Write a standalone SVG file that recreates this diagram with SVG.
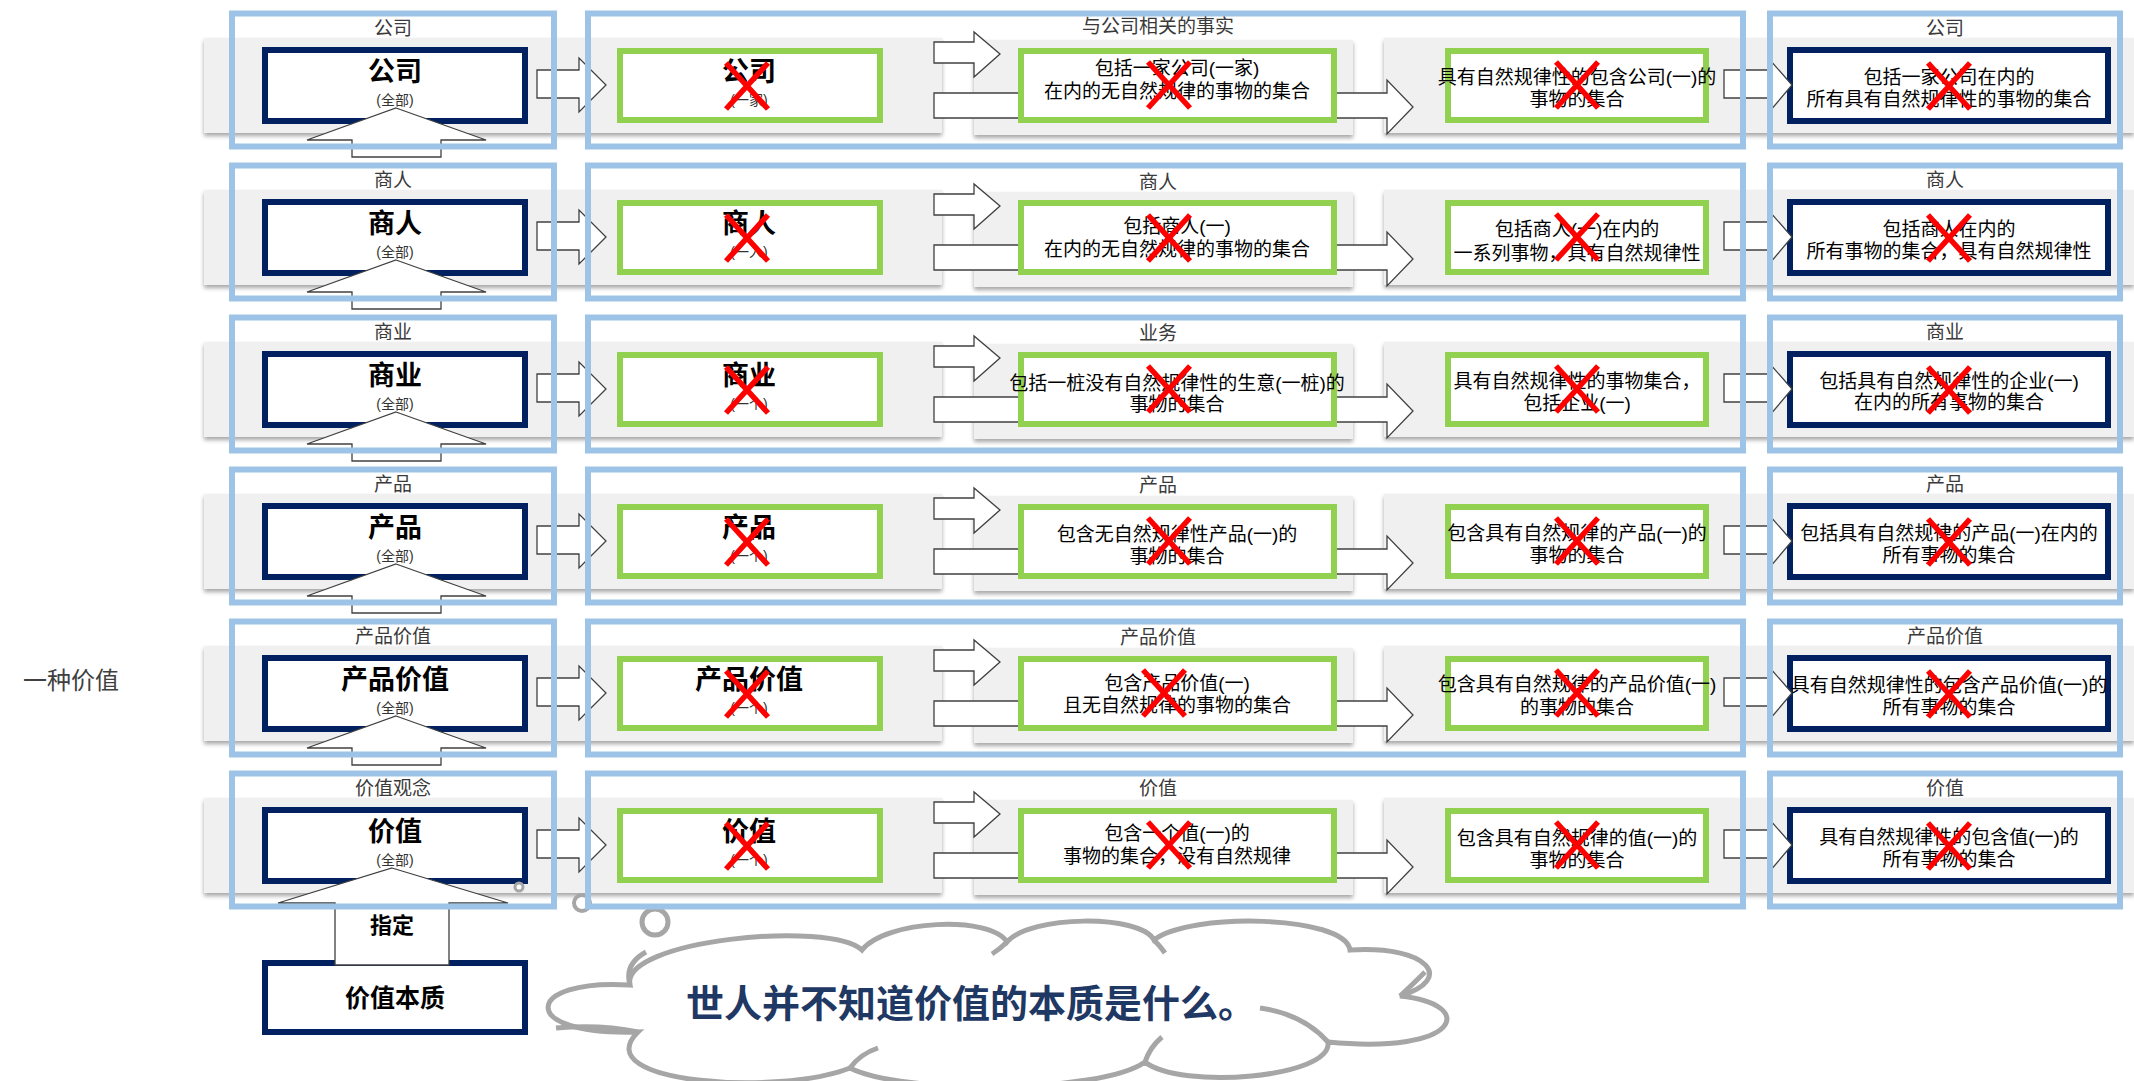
<svg xmlns="http://www.w3.org/2000/svg" width="2134" height="1081" viewBox="0 0 2134 1081">
<defs>
<style>
text{font-family:"Liberation Sans","Noto Sans CJK SC",sans-serif;text-anchor:middle;dominant-baseline:central}
.panel{fill:#f0f0f0;filter:url(#sh)}
.frame{fill:none;stroke:#9dc3e6;stroke-width:6}
.navy{fill:#fff;stroke:#002060;stroke-width:6}
.green{fill:#fff;stroke:#92d050;stroke-width:6}
.arr{fill:#fff;stroke:#404040;stroke-width:1.3}
.x{stroke:#ff0000;stroke-width:5.5;fill:none}
.lbl{font-size:19px;fill:#3a3a3a}
.big{font-size:27px;font-weight:bold;fill:#000}
.sub{font-size:14px;fill:#333}
.t{font-size:19px;fill:#000}
.cloud{fill:#fff;stroke:#a6a6a6;stroke-width:5}
.cl{fill:none;stroke:#a6a6a6;stroke-width:5}
.ring{fill:#fff;stroke:#a6a6a6}
</style>
<filter id="sh" x="-2%" y="-20%" width="104%" height="150%">
<feDropShadow dx="0" dy="3" stdDeviation="2" flood-color="#000" flood-opacity="0.35"/>
</filter>
<path id="aA" d="M537 70H579V58L606 85L579 112V98H537Z"/>
<path id="aB" d="M934 42H974V32L1000 54L974 77V63H934Z"/>
<path id="aC1" d="M1018 93H934V118H1018"/>
<path id="aC2" d="M1337 93H1387V80L1413 107L1387 134V118H1337"/>
<path id="aD" d="M1724 70H1770V60L1792 85L1770 111V98H1724Z"/>
<path id="aUp" d="M396 108L486 140H441V157H352V140H307Z"/>
<path id="xm" d="M-21 -23L21 23M21 -23L-21 23"/>
<g id="pnl">
<rect class="panel" x="204" y="38" width="738" height="95"/>
<rect class="panel" x="974" y="40" width="379" height="95"/>
<rect class="panel" x="1384" y="38" width="750" height="95"/>
</g>
</defs>

<g id="panels">
<use href="#pnl"/>
<use href="#pnl" y="152"/>
<use href="#pnl" y="304"/>
<use href="#pnl" y="456"/>
<use href="#pnl" y="608"/>
<use href="#pnl" y="760"/>
</g>

<text id="side-label" x="71" y="680" style="font-size:24px;fill:#404040">一种价值</text>

<g id="nodes">
<g id="row1">
 <g id="r1-whole"><rect class="navy" x="265" y="50" width="260" height="71"/><text class="big" x="395" y="72">公司</text><text class="sub" x="395" y="100">(全部)</text></g>
 <g id="r1-one"><rect class="green" x="620" y="51" width="260" height="69"/><text class="big" x="749" y="72">公司</text><text class="sub" x="749" y="100">(一家)</text></g>
 <g id="r1-fact1"><rect class="green" x="1021" y="51" width="313" height="69"/><text class="t" x="1177" y="68">包括一家公司(一家)</text><text class="t" x="1177" y="91">在内的无自然规律的事物的集合</text></g>
 <g id="r1-fact2"><rect class="green" x="1448" y="51" width="258" height="69"/><text class="t" x="1577" y="77">具有自然规律性的包含公司(一)的</text><text class="t" x="1577" y="99">事物的集合</text></g>
 <g id="r1-result"><rect class="navy" x="1790" y="50" width="318" height="71"/><text class="t" x="1949" y="77">包括一家公司在内的</text><text class="t" x="1949" y="99">所有具有自然规律性的事物的集合</text></g>
</g>
<g id="row2" transform="translate(0,152)">
 <g id="r2-whole"><rect class="navy" x="265" y="50" width="260" height="71"/><text class="big" x="395" y="72">商人</text><text class="sub" x="395" y="100">(全部)</text></g>
 <g id="r2-one"><rect class="green" x="620" y="51" width="260" height="69"/><text class="big" x="749" y="72">商人</text><text class="sub" x="749" y="100">(一人)</text></g>
 <g id="r2-fact1"><rect class="green" x="1021" y="51" width="313" height="69"/><text class="t" x="1177" y="74">包括商人(一)</text><text class="t" x="1177" y="97">在内的无自然规律的事物的集合</text></g>
 <g id="r2-fact2"><rect class="green" x="1448" y="51" width="258" height="69"/><text class="t" x="1577" y="77">包括商人(一)在内的</text><text class="t" x="1577" y="101">一系列事物，具有自然规律性</text></g>
 <g id="r2-result"><rect class="navy" x="1790" y="50" width="318" height="71"/><text class="t" x="1949" y="77">包括商人在内的</text><text class="t" x="1949" y="99">所有事物的集合，具有自然规律性</text></g>
</g>
<g id="row3" transform="translate(0,304)">
 <g id="r3-whole"><rect class="navy" x="265" y="50" width="260" height="71"/><text class="big" x="395" y="72">商业</text><text class="sub" x="395" y="100">(全部)</text></g>
 <g id="r3-one"><rect class="green" x="620" y="51" width="260" height="69"/><text class="big" x="749" y="72">商业</text><text class="sub" x="749" y="100">(一个)</text></g>
 <g id="r3-fact1"><rect class="green" x="1021" y="51" width="313" height="69"/><text class="t" x="1177" y="79">包括一桩没有自然规律性的生意(一桩)的</text><text class="t" x="1177" y="100">事物的集合</text></g>
 <g id="r3-fact2"><rect class="green" x="1448" y="51" width="258" height="69"/><text class="t" x="1577" y="77">具有自然规律性的事物集合，</text><text class="t" x="1577" y="99">包括企业(一)</text></g>
 <g id="r3-result"><rect class="navy" x="1790" y="50" width="318" height="71"/><text class="t" x="1949" y="77">包括具有自然规律性的企业(一)</text><text class="t" x="1949" y="98">在内的所有事物的集合</text></g>
</g>
<g id="row4" transform="translate(0,456)">
 <g id="r4-whole"><rect class="navy" x="265" y="50" width="260" height="71"/><text class="big" x="395" y="72">产品</text><text class="sub" x="395" y="100">(全部)</text></g>
 <g id="r4-one"><rect class="green" x="620" y="51" width="260" height="69"/><text class="big" x="749" y="72">产品</text><text class="sub" x="749" y="100">(一个)</text></g>
 <g id="r4-fact1"><rect class="green" x="1021" y="51" width="313" height="69"/><text class="t" x="1177" y="78">包含无自然规律性产品(一)的</text><text class="t" x="1177" y="100">事物的集合</text></g>
 <g id="r4-fact2"><rect class="green" x="1448" y="51" width="258" height="69"/><text class="t" x="1577" y="77">包含具有自然规律的产品(一)的</text><text class="t" x="1577" y="99">事物的集合</text></g>
 <g id="r4-result"><rect class="navy" x="1790" y="50" width="318" height="71"/><text class="t" x="1949" y="77">包括具有自然规律的产品(一)在内的</text><text class="t" x="1949" y="99">所有事物的集合</text></g>
</g>
<g id="row5" transform="translate(0,608)">
 <g id="r5-whole"><rect class="navy" x="265" y="50" width="260" height="71"/><text class="big" x="395" y="72">产品价值</text><text class="sub" x="395" y="100">(全部)</text></g>
 <g id="r5-one"><rect class="green" x="620" y="51" width="260" height="69"/><text class="big" x="749" y="72">产品价值</text><text class="sub" x="749" y="100">(一个)</text></g>
 <g id="r5-fact1"><rect class="green" x="1021" y="51" width="313" height="69"/><text class="t" x="1177" y="75">包含产品价值(一)</text><text class="t" x="1177" y="97">且无自然规律的事物的集合</text></g>
 <g id="r5-fact2"><rect class="green" x="1448" y="51" width="258" height="69"/><text class="t" x="1577" y="76">包含具有自然规律的产品价值(一)</text><text class="t" x="1577" y="99">的事物的集合</text></g>
 <g id="r5-result"><rect class="navy" x="1790" y="50" width="318" height="71"/><text class="t" x="1949" y="77">具有自然规律性的包含产品价值(一)的</text><text class="t" x="1949" y="99">所有事物的集合</text></g>
</g>
<g id="row6" transform="translate(0,760)">
 <g id="r6-whole"><rect class="navy" x="265" y="50" width="260" height="71"/><text class="big" x="395" y="72">价值</text><text class="sub" x="395" y="100">(全部)</text></g>
 <g id="r6-one"><rect class="green" x="620" y="51" width="260" height="69"/><text class="big" x="749" y="72">价值</text><text class="sub" x="749" y="100">(一个)</text></g>
 <g id="r6-fact1"><rect class="green" x="1021" y="51" width="313" height="69"/><text class="t" x="1177" y="73">包含一个值(一)的</text><text class="t" x="1177" y="96">事物的集合，没有自然规律</text></g>
 <g id="r6-fact2"><rect class="green" x="1448" y="51" width="258" height="69"/><text class="t" x="1577" y="78">包含具有自然规律的值(一)的</text><text class="t" x="1577" y="100">事物的集合</text></g>
 <g id="r6-result"><rect class="navy" x="1790" y="50" width="318" height="71"/><text class="t" x="1949" y="77">具有自然规律性的包含值(一)的</text><text class="t" x="1949" y="99">所有事物的集合</text></g>
</g>
<g id="essence"><rect class="navy" x="265" y="963" width="260" height="69"/><text x="395" y="998" style="font-size:25px;font-weight:bold;fill:#000">价值本质</text></g>
<g id="cloud">
 <path class="cloud" d="M630 985C620 940 830 920 862 950C885 920 990 915 1007 942C1030 915 1140 914 1154 940C1190 912 1345 915 1350 950C1430 945 1455 980 1400 996C1478 1004 1462 1055 1328 1042C1333 1078 1180 1090 1145 1062C1100 1094 900 1094 850 1068C780 1096 585 1084 638 1032C515 1036 524 978 630 985Z"/>
 <path class="cl" d="M630 985Q624 964 646 952M638 1032Q600 1024 556 1028M1007 942Q1000 949 992 954M1154 940Q1160 946 1165 953M1400 996Q1410 987 1425 972M1328 1042Q1303 1014 1260 1008M1145 1062Q1150 1047 1162 1037M850 1068Q860 1054 878 1048"/>
 <text x="686" y="1004" style="font-size:38px;font-weight:bold;fill:#1f3864;text-anchor:start">世人并不知道价值的本质是什么。</text>
</g>
<g id="bubbles">
 <circle class="ring" cx="519" cy="887" r="4" stroke-width="3"/>
 <circle class="ring" cx="582" cy="903" r="8" stroke-width="4"/>
 <circle class="ring" cx="655" cy="922" r="13" stroke-width="5"/>
</g>
</g>

<g id="connectors" class="arr">
 <use href="#aA"/><use href="#aB"/><use href="#aC1"/><use href="#aC2"/><use href="#aD"/><use href="#aUp"/>
 <use href="#aA" y="152"/><use href="#aB" y="152"/><use href="#aC1" y="152"/><use href="#aC2" y="152"/><use href="#aD" y="152"/><use href="#aUp" y="152"/>
 <use href="#aA" y="304"/><use href="#aB" y="304"/><use href="#aC1" y="304"/><use href="#aC2" y="304"/><use href="#aD" y="304"/><use href="#aUp" y="304"/>
 <use href="#aA" y="456"/><use href="#aB" y="456"/><use href="#aC1" y="456"/><use href="#aC2" y="456"/><use href="#aD" y="456"/><use href="#aUp" y="456"/>
 <use href="#aA" y="608"/><use href="#aB" y="608"/><use href="#aC1" y="608"/><use href="#aC2" y="608"/><use href="#aD" y="608"/><use href="#aUp" y="608"/>
 <use href="#aA" y="760"/><use href="#aB" y="760"/><use href="#aC1" y="760"/><use href="#aC2" y="760"/><use href="#aD" y="760"/>
 <g id="assign"><path d="M392 868L508 903H449V965H335V903H278Z"/><text x="392" y="925" style="font-size:22px;font-weight:bold;fill:#000;stroke:none">指定</text></g>
</g>

<g id="marks" class="x">
 <use href="#xm" x="747" y="86"/><use href="#xm" x="1169" y="85"/><use href="#xm" x="1577" y="85"/><use href="#xm" x="1949" y="86"/>
 <use href="#xm" x="747" y="238"/><use href="#xm" x="1169" y="238"/><use href="#xm" x="1577" y="237"/><use href="#xm" x="1949" y="238"/>
 <use href="#xm" x="747" y="390"/><use href="#xm" x="1169" y="389"/><use href="#xm" x="1577" y="389"/><use href="#xm" x="1949" y="390"/>
 <use href="#xm" x="747" y="542"/><use href="#xm" x="1169" y="541"/><use href="#xm" x="1577" y="541"/><use href="#xm" x="1949" y="542"/>
 <use href="#xm" x="747" y="694"/><use href="#xm" x="1164" y="693"/><use href="#xm" x="1577" y="693"/><use href="#xm" x="1949" y="694"/>
 <use href="#xm" x="747" y="846"/><use href="#xm" x="1169" y="845"/><use href="#xm" x="1577" y="845"/><use href="#xm" x="1949" y="846"/>
</g>

<g id="frames">
<g id="f1"><rect class="frame" x="232" y="13.5" width="322" height="133"/><rect class="frame" x="588" y="13.5" width="1155" height="133"/><rect class="frame" x="1770" y="13.5" width="350" height="133"/>
 <text class="lbl" x="393" y="28">公司</text><text class="lbl" x="1158" y="26">与公司相关的事实</text><text class="lbl" x="1945" y="28">公司</text></g>
<g id="f2" transform="translate(0,152)"><rect class="frame" x="232" y="13.5" width="322" height="133"/><rect class="frame" x="588" y="13.5" width="1155" height="133"/><rect class="frame" x="1770" y="13.5" width="350" height="133"/>
 <text class="lbl" x="393" y="28">商人</text><text class="lbl" x="1158" y="30">商人</text><text class="lbl" x="1945" y="28">商人</text></g>
<g id="f3" transform="translate(0,304)"><rect class="frame" x="232" y="13.5" width="322" height="133"/><rect class="frame" x="588" y="13.5" width="1155" height="133"/><rect class="frame" x="1770" y="13.5" width="350" height="133"/>
 <text class="lbl" x="393" y="28">商业</text><text class="lbl" x="1158" y="29">业务</text><text class="lbl" x="1945" y="28">商业</text></g>
<g id="f4" transform="translate(0,456)"><rect class="frame" x="232" y="13.5" width="322" height="133"/><rect class="frame" x="588" y="13.5" width="1155" height="133"/><rect class="frame" x="1770" y="13.5" width="350" height="133"/>
 <text class="lbl" x="393" y="28">产品</text><text class="lbl" x="1158" y="29">产品</text><text class="lbl" x="1945" y="28">产品</text></g>
<g id="f5" transform="translate(0,608)"><rect class="frame" x="232" y="13.5" width="322" height="133"/><rect class="frame" x="588" y="13.5" width="1155" height="133"/><rect class="frame" x="1770" y="13.5" width="350" height="133"/>
 <text class="lbl" x="393" y="28">产品价值</text><text class="lbl" x="1158" y="29">产品价值</text><text class="lbl" x="1945" y="28">产品价值</text></g>
<g id="f6" transform="translate(0,760)"><rect class="frame" x="232" y="13.5" width="322" height="133"/><rect class="frame" x="588" y="13.5" width="1155" height="133"/><rect class="frame" x="1770" y="13.5" width="350" height="133"/>
 <text class="lbl" x="393" y="28">价值观念</text><text class="lbl" x="1158" y="28">价值</text><text class="lbl" x="1945" y="28">价值</text></g>
</g>
</svg>
